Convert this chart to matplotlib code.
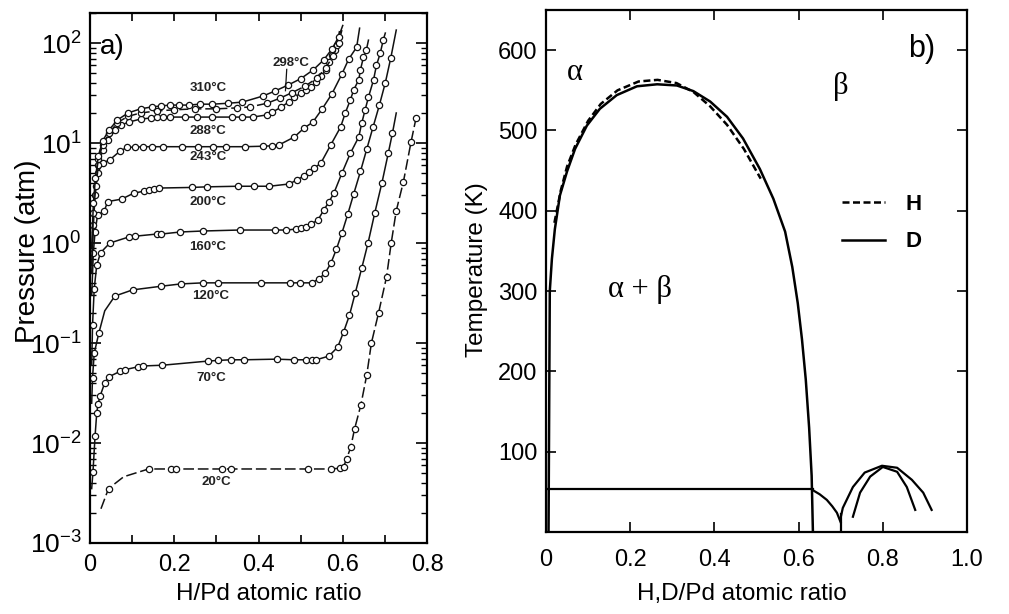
import matplotlib.pyplot as plt
import numpy as np
from matplotlib.ticker import LogLocator, NullFormatter, MultipleLocator

plt.rcParams['font.family'] = ['Liberation Sans', 'DejaVu Sans']
plt.rcParams['mathtext.fontset'] = 'custom'
plt.rcParams['mathtext.rm'] = 'Liberation Sans'
plt.rcParams['mathtext.it'] = 'Liberation Sans:italic'

# ---- a) pressure-composition isotherms (H/Pd ratio, pressure in atm)
x20 = [0.026, 0.044, 0.08, 0.139, 0.193, 0.205, 0.313, 0.334, 0.518, 0.572, 0.593, 0.602,
       0.609, 0.619, 0.628, 0.643, 0.657, 0.668, 0.685, 0.704, 0.715, 0.727, 0.744, 0.762, 0.774]
p20 = [0.0022, 0.0035, 0.0046, 0.0055, 0.0055, 0.0055, 0.0055, 0.0055, 0.0055, 0.0055, 0.0056,
       0.0058, 0.0069, 0.0091, 0.0138, 0.024, 0.048, 0.10, 0.20, 0.46, 1.0, 2.1, 4.1, 10.2, 17.8]

x70 = [0.004, 0.007, 0.012, 0.016, 0.019, 0.024, 0.035, 0.045, 0.071, 0.082, 0.115, 0.127, 0.172,
       0.28, 0.303, 0.335, 0.366, 0.443, 0.484, 0.513, 0.526, 0.537, 0.567, 0.588, 0.602, 0.616,
       0.630, 0.645, 0.660, 0.676, 0.693, 0.708, 0.718, 0.727]
p70 = [0.0035, 0.0051, 0.0117, 0.020, 0.0245, 0.0295, 0.040, 0.046, 0.052, 0.054, 0.058, 0.059,
       0.060, 0.066, 0.067, 0.068, 0.068, 0.069, 0.068, 0.068, 0.068, 0.068, 0.074, 0.091, 0.129,
       0.19, 0.32, 0.56, 1.0, 2.0, 4.0, 7.9, 12.6, 20.0]

x120 = [0.004, 0.006, 0.010, 0.021, 0.035, 0.059, 0.101, 0.169, 0.215, 0.268, 0.304, 0.407, 0.475,
        0.499, 0.527, 0.544, 0.558, 0.572, 0.585, 0.598, 0.612, 0.626, 0.642, 0.657, 0.672, 0.687,
        0.701, 0.714, 0.727]
p120 = [0.025, 0.045, 0.079, 0.126, 0.21, 0.295, 0.34, 0.37, 0.39, 0.40, 0.40, 0.40, 0.40, 0.40,
        0.40, 0.44, 0.50, 0.63, 0.87, 1.26, 1.95, 3.1, 5.2, 8.7, 14.5, 24, 40, 71, 135]

x160 = [0.004, 0.006, 0.010, 0.016, 0.025, 0.047, 0.092, 0.106, 0.158, 0.169, 0.214, 0.268, 0.355,
        0.438, 0.466, 0.489, 0.501, 0.513, 0.525, 0.541, 0.555, 0.567, 0.579, 0.598, 0.618, 0.638,
        0.645, 0.653, 0.661, 0.673, 0.680, 0.689, 0.696, 0.701]
p160 = [0.06, 0.15, 0.35, 0.6, 0.8, 1.0, 1.15, 1.17, 1.23, 1.23, 1.29, 1.32, 1.35, 1.35, 1.35, 1.38,
        1.41, 1.45, 1.55, 1.70, 2.14, 2.57, 3.16, 5.0, 7.9, 11.5, 15.8, 21.4, 28.8, 42.7, 60, 79,
        107, 126]

x200 = [0.004, 0.008, 0.012, 0.018, 0.034, 0.042, 0.075, 0.104, 0.128, 0.14, 0.152, 0.163, 0.242,
        0.277, 0.351, 0.39, 0.426, 0.473, 0.492, 0.508, 0.52, 0.532, 0.548, 0.571, 0.595, 0.606,
        0.618, 0.626, 0.638, 0.642, 0.649, 0.656, 0.661]
p200 = [0.3, 0.8, 1.3, 1.9, 2.1, 2.6, 2.75, 3.16, 3.3, 3.4, 3.5, 3.55, 3.6, 3.65, 3.7, 3.7, 3.7,
        3.9, 4.3, 4.7, 5.1, 5.6, 6.3, 9.5, 14.5, 20, 27, 34, 43, 54, 72, 85, 107]

x243 = [0.004, 0.008, 0.012, 0.018, 0.03, 0.047, 0.071, 0.089, 0.108, 0.125, 0.148, 0.174, 0.219,
        0.257, 0.293, 0.324, 0.367, 0.41, 0.433, 0.449, 0.485, 0.508, 0.529, 0.551, 0.574, 0.598,
        0.614, 0.633, 0.64]
p243 = [0.5, 1.5, 3.0, 5.0, 6.3, 6.8, 8.3, 9.1, 9.1, 9.2, 9.2, 9.2, 9.2, 9.2, 9.2, 9.2, 9.2, 9.3,
        9.4, 9.6, 11.5, 14.1, 16.2, 21.9, 30.9, 49, 69, 91, 141]

x288 = [0.004, 0.008, 0.014, 0.02, 0.03, 0.042, 0.06, 0.073, 0.092, 0.12, 0.144, 0.16, 0.174, 0.19,
        0.226, 0.254, 0.289, 0.336, 0.36, 0.386, 0.419, 0.433, 0.454, 0.473, 0.485, 0.501, 0.513,
        0.525, 0.536, 0.548, 0.56, 0.567, 0.574, 0.581, 0.586, 0.592]
p288 = [0.6, 2.0, 3.7, 6.0, 8.5, 10.7, 13.5, 15.1, 16.2, 17.4, 17.8, 18.2, 18.2, 18.2, 18.2, 18.2,
        18.2, 18.2, 18.2, 18.2, 19.1, 20.4, 22.9, 26.0, 28.8, 31.6, 33.9, 36.3, 40.7, 46.8, 53.7,
        64.6, 75.9, 85, 95, 130]

x298 = [0.012, 0.02, 0.03, 0.045, 0.065, 0.09, 0.12, 0.16, 0.2, 0.25, 0.3, 0.35, 0.38, 0.42, 0.45,
        0.48, 0.51, 0.54, 0.56, 0.578, 0.59, 0.598]
p298 = [4, 7, 9.5, 12.5, 16, 18.5, 20, 21, 21.5, 22, 22, 22.5, 23, 25, 28, 32, 37, 45, 57, 75, 100,
        135]

x310 = [0.004, 0.008, 0.013, 0.02, 0.03, 0.045, 0.065, 0.09, 0.12, 0.147, 0.168, 0.19, 0.212,
        0.235, 0.26, 0.29, 0.327, 0.362, 0.41, 0.438, 0.47, 0.5, 0.53, 0.555, 0.575, 0.59, 0.6]
p310 = [0.9, 2.5, 4.5, 7.5, 10.5, 13.5, 17, 20, 22, 23, 23.5, 24, 24, 24, 24.5, 24.5, 25, 25.7,
        29.5, 33, 38, 44, 54, 68, 88, 115, 150]

# ---- b) phase diagram (H,D/Pd ratio, temperature in K)
xD = [0.006, 0.007, 0.008, 0.009, 0.014, 0.021, 0.033, 0.05, 0.069, 0.097, 0.128, 0.168, 0.216,
      0.264, 0.311, 0.35, 0.39, 0.43, 0.468, 0.508, 0.54, 0.568, 0.585, 0.598, 0.608, 0.617,
      0.625, 0.631, 0.634]
TD = [0, 100, 200, 300, 340, 377, 419, 449, 477, 506, 527, 544, 555, 557.5, 556, 549, 536, 517,
      490, 452, 415, 374, 330, 285, 240, 190, 130, 70, 0]
xH = [0.02, 0.035, 0.05, 0.07, 0.1, 0.13, 0.17, 0.22, 0.265, 0.31, 0.35, 0.39, 0.43, 0.47, 0.51]
TH = [385, 425, 455, 482, 512, 533, 550, 561, 563, 559, 548, 530, 507, 477, 440]
x_tie = [0.0, 0.634]
T_tie = [53, 53]
x_arc1 = [0.634, 0.65, 0.667, 0.68, 0.691, 0.70]
T_arc1 = [52, 47, 40, 32, 24, 12]
x_wall = [0.70, 0.70]
T_wall = [22, 0]
x_arc2 = [0.70, 0.705, 0.729, 0.757, 0.798, 0.834, 0.869, 0.896, 0.916]
T_arc2 = [18, 30, 56, 74, 82.5, 80, 65, 49, 27.5]
x_arc3 = [0.729, 0.746, 0.77, 0.8, 0.834, 0.857, 0.877]
T_arc3 = [19, 49, 69, 81, 75, 56, 27.5]

fig = plt.figure(figsize=(10.09, 6.14), dpi=100)
ax1 = fig.add_axes([90 / 1009, 71 / 614, 337 / 1009, 530 / 614])
ax2 = fig.add_axes([546 / 1009, 82 / 614, 421 / 1009, 522 / 614])

# isotherms: (x, p, vertices without marker, dashes)
isotherms = [
    (x20, p20, [0, 2], (7, 2.5)),
    (x70, p70, [0, len(x70) - 1], None),
    (x120, p120, [0, 4, len(x120) - 1], None),
    (x160, p160, [0, len(x160) - 1], None),
    (x200, p200, [0, len(x200) - 1], None),
    (x243, p243, [0, len(x243) - 1], None),
    (x288, p288, [0, len(x288) - 1], None),
    (x298, p298, [0, len(x298) - 1], (6, 2.5)),
    (x310, p310, [0, len(x310) - 1], None),
]
for xs, ps, bare, dash in isotherms:
    keep = [i for i in range(len(xs)) if i not in bare]
    ln, = ax1.plot(xs, ps, color='#111111', lw=1.1, marker='o', ms=4.5, mfc='white',
                   mec='#111111', mew=0.9, markevery=keep)
    if dash:
        ln.set_dashes(dash)

iso_kw = dict(fontsize=9.5, fontweight='bold', color='#222222', ha='center', va='center')
ax1.text(0.28, 35.5, '310°C', **iso_kw)
ax1.text(0.478, 63, '298°C', **iso_kw)
ax1.plot([0.467, 0.464], [54.6, 33.4], color='#111111', lw=0.9)
ax1.text(0.28, 13.2, '288°C', **iso_kw)
ax1.text(0.28, 7.2, '243°C', **iso_kw)
ax1.text(0.28, 2.57, '200°C', **iso_kw)
ax1.text(0.28, 0.91, '160°C', **iso_kw)
ax1.text(0.287, 0.295, '120°C', **iso_kw)
ax1.text(0.289, 0.0447, '70°C', **iso_kw)
ax1.text(0.299, 0.0041, '20°C', **iso_kw)

ax1.set_yscale('log')
ax1.set_ylim(1e-3, 200)
ax1.set_xlim(0, 0.8)
ax1.set_xticks([0, 0.2, 0.4, 0.6, 0.8])
ax1.set_xticklabels(['0', '0.2', '0.4', '0.6', '0.8'])
ax1.xaxis.set_minor_locator(MultipleLocator(0.1))
ax1.yaxis.set_major_locator(LogLocator(base=10, numticks=10))
ax1.yaxis.set_minor_locator(LogLocator(base=10, subs=np.arange(2, 10), numticks=20))
ax1.yaxis.set_minor_formatter(NullFormatter())
ax1.tick_params(axis='x', which='both', direction='in', top=True, length=6, width=1.2,
                labelsize=17, pad=8)
ax1.tick_params(axis='y', which='major', direction='in', right=True, length=8, width=1.2,
                labelsize=19, pad=6)
ax1.tick_params(axis='y', which='minor', direction='in', right=True, length=4, width=1.0)
ax1.set_xlabel('H/Pd atomic ratio', fontsize=17.5)
ax1.set_ylabel('Pressure (atm)', fontsize=20)
ax1.xaxis.set_label_coords(0.531, -0.0755)
ax1.yaxis.set_label_coords(-0.145, 0.55)
ax1.text(0.065, 0.936, 'a)', transform=ax1.transAxes, fontsize=20, ha='center', va='center')
for s in ax1.spines.values():
    s.set_linewidth(1.6)

# phase diagram
hH, = ax2.plot(xH, TH, color='k', lw=1.8, label='H')
hH.set_dashes((2.8, 1.4))
hD, = ax2.plot(xD, TD, color='k', lw=1.8, label='D')
ax2.plot(x_tie, T_tie, color='k', lw=1.6)
ax2.plot(x_arc1, T_arc1, color='k', lw=1.6)
ax2.plot(x_wall, T_wall, color='k', lw=1.6)
ax2.plot(x_arc2, T_arc2, color='k', lw=1.6)
ax2.plot(x_arc3, T_arc3, color='k', lw=1.6)

greek = dict(family=['Liberation Serif', 'DejaVu Serif'], fontsize=22, ha='center', va='center')
ax2.text(0.069, 572, 'α', **greek)
ax2.text(0.70, 555, 'β', **greek)
ax2.text(0.223, 302, 'α + β', **greek)
ax2.text(0.893, 602, 'b)', fontsize=22, ha='center', va='center')

ax2.legend(handles=[hH, hD], loc='center left', bbox_to_anchor=(0.703, 0.592),
           frameon=False, prop={'weight': 'bold', 'size': 16}, handlelength=1.95,
           handletextpad=0.9, labelspacing=0.75, borderpad=0, borderaxespad=0)

ax2.set_xlim(0, 1.0)
ax2.set_ylim(0, 650)
ax2.set_xticks([0, 0.2, 0.4, 0.6, 0.8, 1.0])
ax2.set_xticklabels(['0', '0.2', '0.4', '0.6', '0.8', '1.0'])
ax2.set_yticks([100, 200, 300, 400, 500, 600])
ax2.tick_params(axis='both', direction='in', top=True, right=True, length=7, width=1.2,
                labelsize=17)
ax2.tick_params(axis='x', pad=12)
ax2.tick_params(axis='y', pad=6)
ax2.set_xlabel('H,D/Pd atomic ratio', fontsize=17.5)
ax2.set_ylabel('Temperature (K)', fontsize=17.5)
ax2.xaxis.set_label_coords(0.466, -0.0977)
ax2.yaxis.set_label_coords(-0.138, 0.502)
for s in ax2.spines.values():
    s.set_linewidth(1.6)

plt.savefig('out.png', dpi=100)
